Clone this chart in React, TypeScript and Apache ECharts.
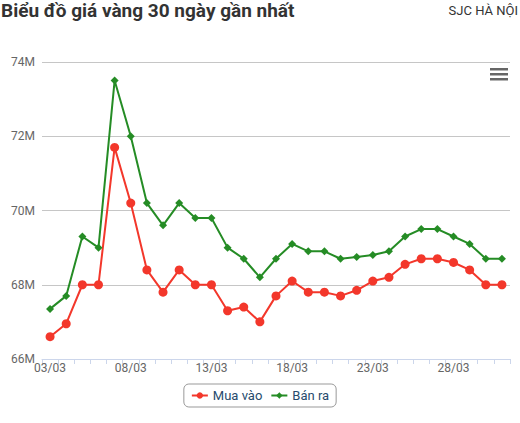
import React, { useEffect, useRef } from "react";
import * as echarts from "echarts";

const categories = [
  "03/03", "04/03", "05/03", "06/03", "07/03", "08/03", "09/03", "10/03", "11/03", "12/03",
  "13/03", "14/03", "15/03", "16/03", "17/03", "18/03", "19/03", "20/03", "21/03", "22/03",
  "23/03", "24/03", "25/03", "26/03", "27/03", "28/03", "29/03", "30/03", "31/03",
];

const buyValues = [
  66.6, 66.95, 68.0, 68.0, 71.7, 70.2, 68.4, 67.8, 68.4, 68.0,
  68.0, 67.3, 67.4, 67.0, 67.7, 68.1, 67.8, 67.8, 67.7, 67.85,
  68.1, 68.2, 68.55, 68.7, 68.7, 68.6, 68.4, 68.0, 68.0,
];

const sellValues = [
  67.35, 67.7, 69.3, 69.0, 73.5, 72.0, 70.2, 69.6, 70.2, 69.8,
  69.8, 69.0, 68.7, 68.2, 68.7, 69.1, 68.9, 68.9, 68.7, 68.75,
  68.8, 68.9, 69.3, 69.5, 69.5, 69.3, 69.1, 68.7, 68.7,
];

const seriesNames = ["Mua vào", "Bán ra"];
const titleText = "Biểu đồ giá vàng 30 ngày gần nhất";
const subtitleText = "SJC HÀ NỘI";

const RED = "#f3372b";
const GREEN = "#258c25";
const FONT = "Roboto, 'Noto Sans', sans-serif";

export default function App() {
  const ref = useRef<HTMLDivElement>(null);

  useEffect(() => {
    if (!ref.current) return;
    const chart = echarts.init(ref.current, null, { renderer: "svg" });
    chart.setOption({
      animation: false,
      textStyle: { fontFamily: FONT },
      title: [
        {
          text: titleText,
          left: 1,
          top: 1,
          padding: 0,
          textStyle: { fontSize: 19, fontWeight: "bold", color: "#333333", fontFamily: FONT },
        },
        {
          text: subtitleText,
          right: 2,
          top: 4,
          padding: 0,
          textStyle: { fontSize: 13, fontWeight: "normal", color: "#333333", fontFamily: FONT },
        },
      ],
      grid: { left: 42, right: 10, top: 62, bottom: 64, containLabel: false },
      xAxis: {
        type: "category",
        data: categories,
        boundaryGap: true,
        axisLine: { lineStyle: { color: "#ccd6eb", width: 1 } },
        axisTick: { show: true, interval: 0, length: 5, lineStyle: { color: "#ccd6eb" } },
        axisLabel: { interval: 4, color: "#666666", fontSize: 12, margin: 3, fontFamily: FONT },
        splitLine: { show: false },
      },
      yAxis: {
        type: "value",
        min: 66,
        max: 74,
        interval: 2,
        axisLine: { show: false },
        axisTick: { show: false },
        axisLabel: {
          color: "#666666",
          fontSize: 12,
          margin: 7,
          fontFamily: FONT,
          formatter: (v: number) => `${v}M`,
        },
        splitLine: { lineStyle: { color: "#c6c6c6", width: 1 } },
      },
      legend: {
        bottom: 16,
        left: "center",
        itemWidth: 16,
        itemHeight: 8,
        itemGap: 8,
        padding: [5, 7, 5, 7],
        borderColor: "#999999",
        borderWidth: 1,
        borderRadius: 5,
        textStyle: { color: "#274b6d", fontSize: 13, fontFamily: FONT },
        data: seriesNames,
      },
      series: [
        {
          name: seriesNames[0],
          type: "line",
          data: buyValues,
          symbol: "circle",
          symbolSize: 9,
          lineStyle: { color: RED, width: 2 },
          itemStyle: { color: RED },
        },
        {
          name: seriesNames[1],
          type: "line",
          data: sellValues,
          symbol: "diamond",
          symbolSize: 8,
          lineStyle: { color: GREEN, width: 2 },
          itemStyle: { color: GREEN },
        },
      ],
      graphic: [
        { type: "rect", shape: { x: 490, y: 68, width: 18, height: 2.5 }, style: { fill: "#666666" } },
        { type: "rect", shape: { x: 490, y: 73, width: 18, height: 2.5 }, style: { fill: "#666666" } },
        { type: "rect", shape: { x: 490, y: 78, width: 18, height: 2.5 }, style: { fill: "#666666" } },
      ],
    });
    return () => chart.dispose();
  }, []);

  return (
    <div
      ref={ref}
      style={{ position: "absolute", left: 0, top: 0, width: 520, height: 423, background: "#ffffff" }}
    />
  );
}
